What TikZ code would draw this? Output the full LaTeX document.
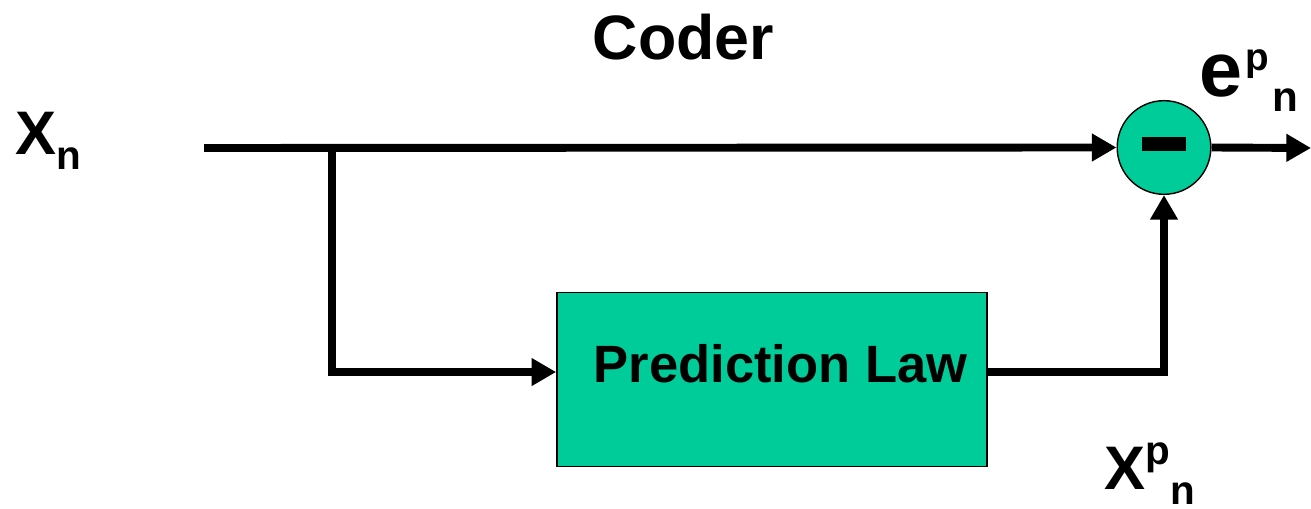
\documentclass[tikz,border=0pt]{standalone}
\usepackage{fontspec}
\setmainfont{Liberation Sans}
\usetikzlibrary{arrows.meta}
\definecolor{predgreen}{RGB}{0,204,153}
\begin{document}
\begin{tikzpicture}[x=0.02cm,y=-0.02cm,
  wire/.style={line width=4.5pt},
  arr/.style={wire,-{Triangle[length=14pt,width=15pt]}},
  sumnode/.style={circle,draw=black,line width=0.8pt,fill=predgreen,minimum size=53.3pt,inner sep=0pt},
  boxnode/.style={rectangle,draw=black,line width=0.8pt,fill=predgreen,minimum width=244.9pt,minimum height=99.2pt,inner sep=0pt},
  lbl/.style={inner sep=0pt,font=\bfseries}
]
\useasboundingbox (0,0) rectangle (1311,509);
\coordinate (in) at (204,148);
\coordinate (br) at (332,148);
\coordinate (out) at (1311,148);
\node[sumnode] (sum) at (1164,147.5) {};
\node[boxnode] (pred) at (772,379.5) {};
\fill[black] ([xshift=-12.5pt,yshift=-1.8pt]sum.center) rectangle ([xshift=12.5pt,yshift=6.1pt]sum.center);
\draw[arr] (in) -- (sum.west);
\draw[arr] (br) |- ([yshift=4.25pt]pred.west);
\draw[arr] ([yshift=4.25pt]pred.east) -| (sum.south);
\draw[arr] (sum.east) -- (out);
\node[lbl,anchor=base] (coder) at (683.5,60) {\fontsize{35.7}{36}\selectfont Coder};
\node[lbl,anchor=base] (predtext) at (780.5,383) {\fontsize{29.9}{30}\selectfont Prediction Law};
\node[lbl,anchor=base west] (xn) at (15,155) {\fontsize{35}{35}\selectfont X\raisebox{-8.5pt}{\fontsize{23}{23}\selectfont n}};
\node[lbl,anchor=base west] (epn) at (1199,97) {\fontsize{44}{44}\selectfont e\kern1.7pt\raisebox{15pt}{\fontsize{22}{22}\selectfont p}\kern2pt\raisebox{-8.5pt}{\fontsize{24}{24}\selectfont n}};
\node[lbl,anchor=base west] (xpn) at (1104.4,489) {\fontsize{35}{35}\selectfont X\raisebox{14.2pt}{\fontsize{23}{23}\selectfont p}\raisebox{-9pt}{\fontsize{23}{23}\selectfont n}};
\end{tikzpicture}
\end{document}
